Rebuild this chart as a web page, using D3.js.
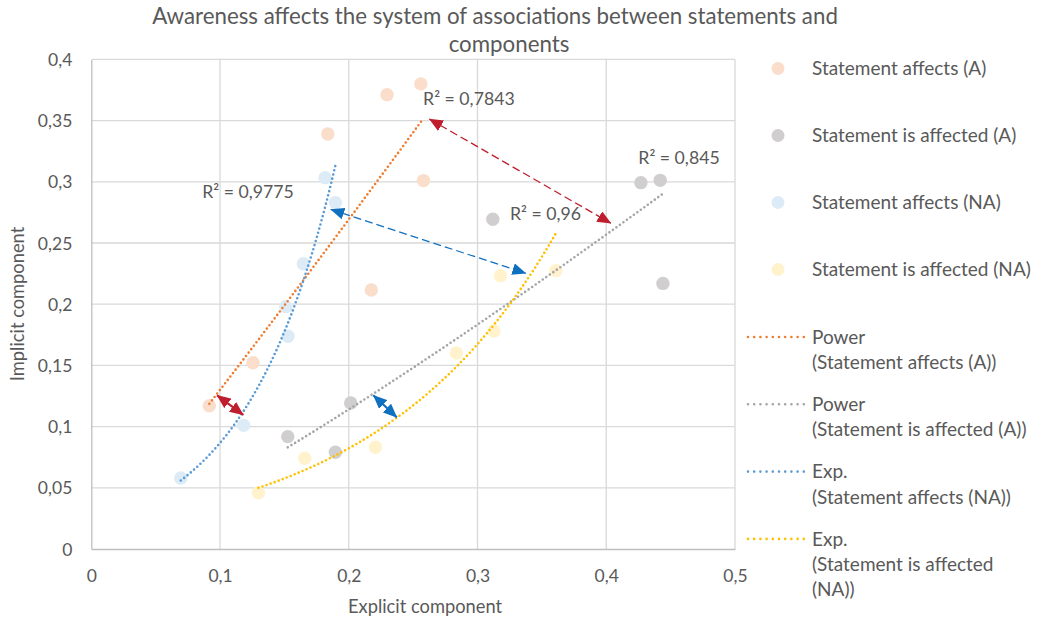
<!DOCTYPE html>
<html>
<head>
<meta charset="utf-8">
<script src="https://cdn.jsdelivr.net/npm/d3@7"></script>
<style>
  html, body { margin: 0; padding: 0; background: #ffffff; }
  svg { display: block; font-family: Lato, "Open Sans", sans-serif; }
</style>
</head>
<body>
<svg id="chart" width="1044" height="625"></svg>
<script>
// ---------- DATA ----------
const titleLines = ["Awareness affects the system of associations between statements and", "components"];
const xTicks = [0, 0.1, 0.2, 0.3, 0.4, 0.5];
const yTicks = [0, 0.05, 0.1, 0.15, 0.2, 0.25, 0.3, 0.35, 0.4];
const xTitle = "Explicit component";
const yTitle = "Implicit component";

const seriesNames = ["Statement affects (A)", "Statement is affected (A)", "Statement affects (NA)", "Statement is affected (NA)"];

const affectsA_x = [0.0917, 0.1256, 0.1837, 0.2175, 0.2297, 0.2560, 0.2580];
const affectsA_y = [0.1170, 0.1522, 0.3390, 0.2116, 0.3712, 0.3800, 0.3010];

const affectedA_x = [0.1526, 0.1896, 0.2015, 0.3119, 0.4269, 0.4419, 0.4440];
const affectedA_y = [0.0918, 0.0790, 0.1193, 0.2694, 0.2993, 0.3012, 0.2170];

const affectsNA_x = [0.0695, 0.1184, 0.1528, 0.1510, 0.1647, 0.1816, 0.1896];
const affectsNA_y = [0.0580, 0.1010, 0.1738, 0.1980, 0.2330, 0.3034, 0.2830];

const affectedNA_x = [0.1298, 0.1658, 0.2207, 0.2836, 0.3127, 0.3178, 0.3608];
const affectedNA_y = [0.0460, 0.0741, 0.0831, 0.1601, 0.1781, 0.2233, 0.2274];

const trendTypes = ["power", "power", "exp", "exp"];
const trendLegendLines = [
  ["Power", "(Statement affects (A))"],
  ["Power", "(Statement is affected (A))"],
  ["Exp.", "(Statement affects (NA))"],
  ["Exp.", "(Statement is affected", "(NA))"]
];
const r2Labels = ["R² = 0,7843", "R² = 0,845", "R² = 0,9775", "R² = 0,96"];
const r2Anchor_x = [0.2577, 0.4249, 0.0862, 0.3252];
const r2Anchor_y = [0.3627, 0.3143, 0.2868, 0.2688];

// annotation arrows (endpoints in data units)
const arrowFrom_x = [0.2626, 0.1860, 0.0977, 0.2191];
const arrowFrom_y = [0.3513, 0.2775, 0.1256, 0.1256];
const arrowTo_x   = [0.4036, 0.3375, 0.1181, 0.2373];
const arrowTo_y   = [0.2661, 0.2252, 0.1095, 0.1076];
const arrowColor  = ["red", "blue", "red", "blue"];
const arrowDashed = [true, true, false, false];

// ---------- STYLE ----------
const markerColors = ["#FADDCB", "#D0CECE", "#DDEBF7", "#FFF2CC"];
const trendColors  = ["#ED7D31", "#A5A5A5", "#5B9BD5", "#FFC000"];
const arrowColors  = { red: "#BF1E2E", blue: "#1070C0" };
const textColor = "#595959";

const svg = d3.select("#chart");
const plot = { left: 91.3, right: 735, top: 59.4, bottom: 549 };

const x = d3.scaleLinear().domain([0, 0.5]).range([plot.left, plot.right]);
const y = d3.scaleLinear().domain([0, 0.4]).range([plot.bottom, plot.top]);

const fmt = v => String(+v.toFixed(2)).replace(".", ",");

// gridlines
svg.append("g").selectAll("line").data(xTicks.filter(d => d > 0)).join("line")
  .attr("x1", d => x(d)).attr("x2", d => x(d))
  .attr("y1", plot.top).attr("y2", plot.bottom)
  .attr("stroke", "#D9D9D9").attr("stroke-width", 1.3);
svg.append("g").selectAll("line").data(yTicks.filter(d => d > 0)).join("line")
  .attr("x1", plot.left).attr("x2", plot.right)
  .attr("y1", d => y(d)).attr("y2", d => y(d))
  .attr("stroke", "#D9D9D9").attr("stroke-width", 1.3);

// axes via d3 axis generators (lines styled, tick marks hidden)
const xAxis = svg.append("g").attr("transform", `translate(0,${plot.bottom})`)
  .call(d3.axisBottom(x).tickValues(xTicks).tickFormat(fmt).tickSize(0).tickPadding(20));
const yAxis = svg.append("g").attr("transform", `translate(${plot.left},0)`)
  .call(d3.axisLeft(y).tickValues(yTicks).tickFormat(fmt).tickSize(0).tickPadding(19));
[xAxis, yAxis].forEach(a => {
  a.select(".domain").attr("stroke", "#BFBFBF").attr("stroke-width", 1.3);
  a.selectAll("text").attr("fill", textColor).attr("font-size", 17.5)
    .attr("font-family", "Lato, sans-serif");
});
xAxis.selectAll("text").attr("dy", "0.32em").attr("y", 27);
yAxis.selectAll("text").attr("dy", "0.35em");

// title
svg.append("g").selectAll("text").data(titleLines).join("text")
  .attr("x", (d, i) => i === 0 ? 495 : 509)
  .attr("y", (d, i) => 24 + i * 28)
  .attr("text-anchor", "middle")
  .attr("fill", textColor).attr("font-size", 22.3)
  .text(d => d);

// axis titles
svg.append("text").attr("x", 425).attr("y", 613).attr("text-anchor", "middle")
  .attr("fill", textColor).attr("font-size", 18.3).text(xTitle);
svg.append("text").attr("transform", "translate(24,304) rotate(-90)")
  .attr("text-anchor", "middle").attr("fill", textColor).attr("font-size", 18.3).text(yTitle);

// series
const seriesX = [affectsA_x, affectedA_x, affectsNA_x, affectedNA_x];
const seriesY = [affectsA_y, affectedA_y, affectsNA_y, affectedNA_y];
const series = seriesNames.map((name, i) => ({
  name, i,
  pts: seriesX[i].map((v, j) => ({ x: v, y: seriesY[i][j] }))
}));

// markers
series.forEach(s => {
  svg.append("g").selectAll("circle").data(s.pts).join("circle")
    .attr("cx", d => x(d.x)).attr("cy", d => y(d.y)).attr("r", 6.7)
    .attr("fill", markerColors[s.i]);
});

// trend line fits (least squares, as a spreadsheet trendline does)
function fitTrend(pts, type) {
  const X = pts.map(p => type === "power" ? Math.log(p.x) : p.x);
  const Y = pts.map(p => Math.log(p.y));
  const mx = d3.mean(X), my = d3.mean(Y);
  const b = d3.sum(X, (v, k) => (v - mx) * (Y[k] - my)) / d3.sum(X, v => (v - mx) * (v - mx));
  const lna = my - b * mx;
  return type === "power" ? (t => Math.exp(lna) * Math.pow(t, b)) : (t => Math.exp(lna + b * t));
}
const line = d3.line().x(d => x(d[0])).y(d => y(d[1]));
series.forEach(s => {
  const f = fitTrend(s.pts, trendTypes[s.i]);
  const [x0, x1] = d3.extent(s.pts, p => p.x);
  const samples = d3.range(0, 101).map(k => { const t = x0 + (x1 - x0) * k / 100; return [t, f(t)]; });
  svg.append("path").attr("d", line(samples)).attr("fill", "none")
    .attr("stroke", trendColors[s.i]).attr("stroke-width", 2.6)
    .attr("stroke-linecap", "round").attr("stroke-dasharray", "0 4.3");
});

// R² labels
svg.append("g").selectAll("text").data(r2Labels).join("text")
  .attr("x", (d, i) => x(r2Anchor_x[i])).attr("y", (d, i) => y(r2Anchor_y[i]))
  .attr("fill", textColor).attr("font-size", 17.7).text(d => d);

// arrow markers
const defs = svg.append("defs");
Object.entries(arrowColors).forEach(([k, c]) => {
  defs.append("marker").attr("id", "head-" + k)
    .attr("viewBox", "0 0 14 12").attr("refX", 13.5).attr("refY", 6)
    .attr("markerWidth", 14).attr("markerHeight", 12)
    .attr("markerUnits", "userSpaceOnUse").attr("orient", "auto-start-reverse")
    .append("path").attr("d", "M0,0 L14,6 L0,12 Z").attr("fill", c);
});
arrowFrom_x.forEach((v, i) => {
  svg.append("line")
    .attr("x1", x(v)).attr("y1", y(arrowFrom_y[i]))
    .attr("x2", x(arrowTo_x[i])).attr("y2", y(arrowTo_y[i]))
    .attr("stroke", arrowColors[arrowColor[i]])
    .attr("stroke-width", arrowDashed[i] ? 1.3 : 2.2)
    .attr("stroke-dasharray", arrowDashed[i] ? "8 4" : null)
    .attr("marker-start", `url(#head-${arrowColor[i]})`)
    .attr("marker-end", `url(#head-${arrowColor[i]})`);
});

// legend: series markers
const legX = 778, legTextX = 812;
const leg = svg.append("g");
seriesNames.forEach((name, i) => {
  const cy = 68.5 + i * 67;
  leg.append("circle").attr("cx", legX).attr("cy", cy).attr("r", 6.5).attr("fill", markerColors[i]);
  leg.append("text").attr("x", legTextX).attr("y", cy).attr("dy", "0.35em")
    .attr("fill", textColor).attr("font-size", 19).text(name);
});
// legend: trend lines
trendLegendLines.forEach((lines, i) => {
  const cy = 337 + i * 67.3;
  leg.append("line").attr("x1", 748).attr("x2", 804).attr("y1", cy).attr("y2", cy)
    .attr("stroke", trendColors[i]).attr("stroke-width", 2.6)
    .attr("stroke-linecap", "round").attr("stroke-dasharray", "0 6.2");
  lines.forEach((t, j) => {
    leg.append("text").attr("x", legTextX).attr("y", cy + j * 25.3).attr("dy", "0.35em")
      .attr("fill", textColor).attr("font-size", 19).text(t);
  });
});
</script>
</body>
</html>
